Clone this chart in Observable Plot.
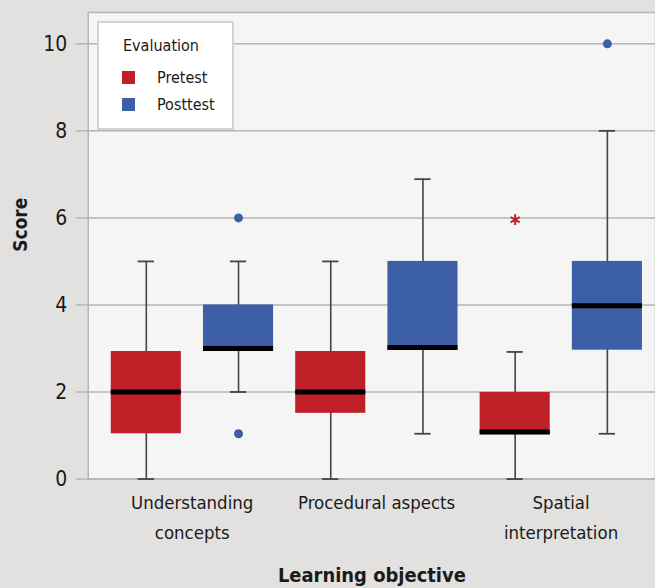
<!DOCTYPE html>
<html>
<head>
<meta charset="utf-8">
<script src="https://cdn.jsdelivr.net/npm/d3@7"></script>
<script src="https://cdn.jsdelivr.net/npm/@observablehq/plot@0.6"></script>
<style>
  html, body { margin: 0; padding: 0; background: #e2e1df; overflow: hidden; }
  #wrap { position: relative; width: 655px; height: 588px; overflow: hidden; font-family: "DejaVu Sans Condensed", sans-serif; }
  #legend { position: absolute; left: 97px; top: 21px; width: 133px; height: 105px; background: #fff; border: 2px solid #d3d3d3; color: #1a1a1a; }
  #legend .title { position: absolute; left: 24px; top: 13px; font-size: 16px; }
  #legend .item { position: absolute; left: 23px; height: 16px; font-size: 16px; }
  #legend .sw { position: absolute; left: 0; top: 0; width: 13px; height: 13px; }
  #legend .lab { position: absolute; left: 35px; top: -3px; white-space: nowrap; }
</style>
</head>
<body>
<div id="wrap"></div>
<script>
// ---- data ----
const groups = ["Understanding concepts", "Procedural aspects", "Spatial interpretation"];
const groupLabels = ["Understanding\nconcepts", "Procedural aspects", "Spatial\ninterpretation"];
const evaluations = ["Pretest", "Posttest"];
const colors = ["#bf1f27", "#3c5fa6"];
const yTicks = [0, 2, 4, 6, 8, 10];

const pretestLow    = [0, 0, 0];
const pretestQ1     = [1.04, 1.51, 1.02];
const pretestMedian = [2.0, 2.0, 1.08];
const pretestQ3     = [2.93, 2.93, 1.99];
const pretestHigh   = [5.0, 5.0, 2.92];
const pretestOutliers = [[], [], [5.96]];

const posttestLow    = [2.0, 1.04, 1.04];
const posttestQ1     = [2.93, 2.96, 2.96];
const posttestMedian = [3.0, 3.02, 3.98];
const posttestQ3     = [4.0, 5.0, 5.0];
const posttestHigh   = [5.0, 6.89, 8.0];
const posttestOutliers = [[6.0, 1.04], [], [10.0]];

// ---- build tables ----
const key = (g, e) => g + "|" + e;
const keys = groups.flatMap(g => evaluations.map(e => key(g, e)));
const series = {
  Pretest: {low: pretestLow, q1: pretestQ1, med: pretestMedian, q3: pretestQ3, high: pretestHigh, out: pretestOutliers},
  Posttest: {low: posttestLow, q1: posttestQ1, med: posttestMedian, q3: posttestQ3, high: posttestHigh, out: posttestOutliers}
};
const boxes = groups.flatMap((g, i) => evaluations.map(e => ({
  key: key(g, e), group: g, evaluation: e,
  low: series[e].low[i], q1: series[e].q1[i], median: series[e].med[i], q3: series[e].q3[i], high: series[e].high[i]
})));
const caps = boxes.flatMap(b => [{key: b.key, value: b.low}, {key: b.key, value: b.high}]);
const outliers = groups.flatMap((g, i) => evaluations.flatMap(e => series[e].out[i].map(v => ({key: key(g, e), evaluation: e, value: v}))));
const groupRows = groups.map((g, i) => ({key: key(g, evaluations[0]), label: groupLabels[i]}));

const font = "'DejaVu Sans Condensed', sans-serif";
const grid = "#b5b5b5";
const ink = "#1a1a1a";

const chart = Plot.plot({
  width: 657,
  height: 588,
  marginLeft: 88,
  marginRight: 0,
  marginTop: 12,
  marginBottom: 108,
  style: {background: "transparent", fontFamily: font, color: ink, overflow: "visible"},
  x: {domain: keys, range: [100, 655], paddingInner: 0.24, paddingOuter: 0.12, round: false, axis: null},
  y: {domain: [0, 10.72], axis: null},
  color: {domain: evaluations, range: colors},
  marks: [
    Plot.frame({fill: "#f5f5f5", stroke: grid, strokeWidth: 1.5}),
    Plot.gridY(yTicks, {stroke: grid, strokeOpacity: 1, strokeWidth: 1.5}),
    Plot.axisY(yTicks, {tickSize: 12, tickPadding: 9, fontSize: 21, stroke: grid, strokeWidth: 1.5, fill: ink, label: null}),
    Plot.ruleX(boxes, {x: "key", y1: "low", y2: "high", stroke: "#444", strokeWidth: 1.6}),
    Plot.tickY(caps, {x: "key", y: "value", stroke: "#444", strokeWidth: 1.8, insetLeft: 27, insetRight: 27}),
    Plot.barY(boxes, {x: "key", y1: "q1", y2: "q3", fill: "evaluation"}),
    Plot.tickY(boxes, {x: "key", y: "median", stroke: "#000", strokeWidth: 5}),
    Plot.dot(outliers.filter(d => d.evaluation === "Posttest"), {x: "key", y: "value", r: 4.5, fill: "evaluation", stroke: null}),
    Plot.dot(outliers.filter(d => d.evaluation === "Pretest"), {x: "key", y: "value", r: 5, symbol: "asterisk", stroke: "evaluation", strokeWidth: 2}),
    Plot.text(groupRows, {x: "key", text: "label", frameAnchor: "bottom", dx: 46, dy: 9, lineAnchor: "top", fontSize: 18.5, lineHeight: 1.62, fill: ink}),
    Plot.text(["Learning objective"], {frameAnchor: "bottom", dy: 97, lineAnchor: "middle", fontSize: 20, fontWeight: "bold", fill: ink}),
    Plot.text(["Score"], {frameAnchor: "left", dx: -68, dy: 6, rotate: -90, lineAnchor: "middle", fontSize: 19, fontWeight: "bold", fill: ink})
  ]
});

const wrap = document.getElementById("wrap");
wrap.appendChild(chart);

// legend built from the evaluation/colour arrays
const legend = document.createElement("div");
legend.id = "legend";
const title = document.createElement("div");
title.className = "title";
title.textContent = "Evaluation";
legend.appendChild(title);
evaluations.forEach((e, i) => {
  const item = document.createElement("div");
  item.className = "item";
  item.style.top = (48 + i * 27) + "px";
  const sw = document.createElement("div");
  sw.className = "sw";
  sw.style.background = colors[i];
  const lab = document.createElement("div");
  lab.className = "lab";
  lab.textContent = e;
  item.appendChild(sw);
  item.appendChild(lab);
  legend.appendChild(item);
});
wrap.appendChild(legend);
</script>
</body>
</html>
